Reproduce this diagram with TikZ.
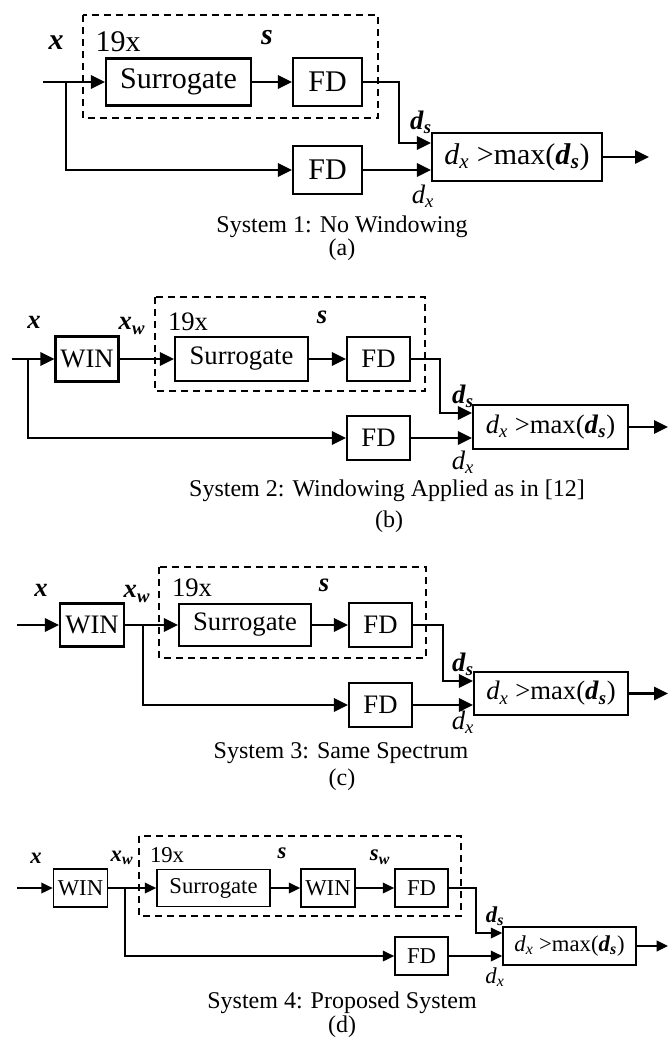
\documentclass[tikz,border=0pt]{standalone}
\usepackage{fontspec}
\setmainfont{Liberation Serif}
\usetikzlibrary{positioning,arrows.meta,calc}

% Variables (texte)
\newcommand{\bvar}[1]{\textbf{\textit{#1}}}
\newcommand{\dsv}{\bvar{d}\textsubscript{\bvar{s}}}
\newcommand{\dxv}{\textit{d}\textsubscript{\textit{x}}}
\newcommand{\xwv}{\bvar{x}\textsubscript{\bvar{w}}}
\newcommand{\swv}{\bvar{s}\textsubscript{\bvar{w}}}
\newcommand{\cmptext}{\dxv{} >max(\dsv)}

% Tailles de police par panneau
\newcommand{\fsA}{\fontsize{22.5}{24}\selectfont}
\newcommand{\fsB}{\fontsize{20}{22}\selectfont}
\newcommand{\fsD}{\fontsize{17}{19}\selectfont}
\newcommand{\fsCap}{\fontsize{18}{20}\selectfont}

\def\px{0.75pt}

\tikzset{
  bloc/.style={draw, line width=1.6pt, inner sep=0pt, align=center},
  sig/.style={line width=1.6pt, -{Triangle[length=10.5pt, width=10pt]}},
  groupe/.style={line width=1.5pt, dash pattern=on 5.25pt off 3.75pt},
  etiq/.style={inner sep=0.5pt},
  legende/.style={font=\fsCap, inner sep=0.5pt},
}

\begin{document}
\begin{tikzpicture}[x=0.75pt, y=-0.75pt]

    \useasboundingbox (0,0) rectangle (668,1039);

    % =========================================================================
    % SYSTEME 1 : PAS DE FENETRAGE
    % =========================================================================
    \begin{scope}[font=\fsA]
    \coordinate (inA) at (43,82);
    \coordinate (brA) at (66,82);
    \node[bloc, minimum width={145*\px}, minimum height={47*\px}] (surA) at (178.5,82) {Surrogate};
    \node[bloc, minimum width={69*\px}, minimum height={48*\px}] (fdA) at (327.5,82) {FD};
    \node[bloc, minimum width={69*\px}, minimum height={48*\px}] (fdlA) at (327.5,170) {FD};
    \node[bloc, minimum width={170*\px}, minimum height={48*\px}] (cmpA) at (517,157) {\cmptext};
    \coordinate (outA) at (649,157);

    % Groupe 19x
    \draw[groupe] (83,15) rectangle (378,118);

    % Labels
    \node[etiq] (xA) at (56,43) {\bvar{x}};
    \node[etiq] (nA) at (118,42) {19x};
    \node[etiq] (sA) at (267,38) {\bvar{s}};
    \node[etiq, font=\fsB] (dsA) at (421,122) {\dsv};
    \node[etiq, font=\fsB] (dxA) at (423,196) {\dxv};

    % Liaisons
    \draw[line width=1.6pt] (inA) -- (brA);
    \draw[sig] (brA) -- (surA.west);
    \draw[sig] (surA) -- (fdA);
    \draw[sig] (brA) |- (fdlA.west);
    \draw[sig] (fdA.east) -- ++(36,0) |- ($(cmpA.west)+(0,-14)$);
    \draw[sig] (fdlA.east) -- (fdlA.east -| cmpA.west);
    \draw[sig] (cmpA.east) -- (outA);
    \end{scope}
    \node[legende] (capA) at (342,227) {System 1: No Windowing};
    \node[legende] (parA) at (342,250) {(a)};

    % =========================================================================
    % SYSTEME 2 : FENETRAGE COMME DANS [12]
    % =========================================================================
    \begin{scope}[font=\fsB]
    \coordinate (inB) at (12,359);
    \coordinate (brB) at (28,359);
    \node[bloc, minimum width={63*\px}, minimum height={45*\px}] (winB) at (87,359) {WIN};
    \node[bloc, minimum width={133*\px}, minimum height={44*\px}] (surB) at (241.5,359) {Surrogate};
    \node[bloc, minimum width={63*\px}, minimum height={44*\px}] (fdB) at (378.5,359) {FD};
    \node[bloc, minimum width={63*\px}, minimum height={44*\px}] (fdlB) at (378.5,438) {FD};
    \node[bloc, minimum width={155*\px}, minimum height={44*\px}] (cmpB) at (550.5,427) {\cmptext};
    \coordinate (outB) at (668,427);

    % Groupe 19x
    \draw[groupe] (155,297) rectangle (425,391);

    % Labels
    \node[etiq] (xB) at (34,322) {\bvar{x}};
    \node[etiq] (xwB) at (132,326) {\xwv};
    \node[etiq] (nB) at (188,322) {19x};
    \node[etiq] (sB) at (322,317) {\bvar{s}};
    \node[etiq] (dsB) at (463,396) {\dsv};
    \node[etiq] (dxB) at (463,462) {\dxv};

    % Liaisons
    \draw[sig] (inB) -- (winB.west);
    \draw[sig] (winB) -- (surB);
    \draw[sig] (surB) -- (fdB);
    \draw[sig] (brB) |- (fdlB.west);
    \draw[sig] (fdB.east) -- ++(29,0) |- ($(cmpB.west)+(0,-14)$);
    \draw[sig] (fdlB.east) -- (fdlB.east -| cmpB.west);
    \draw[sig] (cmpB.east) -- (outB);
    \end{scope}
    \node[legende] (capB) at (387,491) {System 2: Windowing Applied as in [12]};
    \node[legende] (parB) at (389,522) {(b)};

    % =========================================================================
    % SYSTEME 3 : MEME SPECTRE
    % =========================================================================
    \begin{scope}[font=\fsB]
    \coordinate (inC) at (17,625);
    \node[bloc, minimum width={64*\px}, minimum height={43*\px}] (winC) at (92,625) {WIN};
    \coordinate (brC) at (143,625);
    \node[bloc, minimum width={132*\px}, minimum height={42*\px}] (surC) at (245,625) {Surrogate};
    \node[bloc, minimum width={63*\px}, minimum height={44*\px}] (fdC) at (380.5,625) {FD};
    \node[bloc, minimum width={63*\px}, minimum height={44*\px}] (fdlC) at (380.5,705) {FD};
    \node[bloc, minimum width={154*\px}, minimum height={43*\px}] (cmpC) at (551,693.5) {\cmptext};
    \coordinate (outC) at (668,693.5);

    % Groupe 19x
    \draw[groupe] (159,567) rectangle (426,658);

    % Labels
    \node[etiq] (xC) at (41,590) {\bvar{x}};
    \node[etiq] (xwC) at (137,594) {\xwv};
    \node[etiq] (nC) at (192,588) {19x};
    \node[etiq] (sC) at (324,585) {\bvar{s}};
    \node[etiq] (dsC) at (463,664) {\dsv};
    \node[etiq] (dxC) at (463,722) {\dxv};

    % Liaisons
    \draw[sig] (inC) -- (winC.west);
    \draw[sig] (winC) -- (surC);
    \draw[sig] (surC) -- (fdC);
    \draw[sig] (brC) |- (fdlC.west);
    \draw[sig] (fdC.east) -- ++(30,0) |- ($(cmpC.west)+(0,-12.5)$);
    \draw[sig] (fdlC.east) -- (fdlC.east -| cmpC.west);
    \draw[sig] (cmpC.east) -- (outC);
    \end{scope}
    \node[legende] (capC) at (341,753) {System 3: Same Spectrum};
    \node[legende] (parC) at (342,780) {(c)};

    % =========================================================================
    % SYSTEME 4 : SYSTEME PROPOSE
    % =========================================================================
    \begin{scope}[font=\fsD, sig/.append style={line width=1.3pt, -{Triangle[length=8.5pt, width=8pt]}}]
    \coordinate (inD) at (17,888);
    \node[bloc, line width=1.3pt, minimum width={54*\px}, minimum height={38*\px}] (winD) at (80.5,888) {WIN};
    \coordinate (brD) at (125,888);
    \node[bloc, line width=1.3pt, minimum width={113*\px}, minimum height={37*\px}] (surD) at (213.5,888) {Surrogate};
    \node[bloc, line width=1.3pt, minimum width={54*\px}, minimum height={38*\px}] (winsD) at (328,888) {WIN};
    \node[bloc, line width=1.3pt, minimum width={53*\px}, minimum height={38*\px}] (fdD) at (421.5,888) {FD};
    \node[bloc, line width=1.3pt, minimum width={53*\px}, minimum height={38*\px}] (fdlD) at (421.5,956) {FD};
    \node[bloc, line width=1.3pt, minimum width={133*\px}, minimum height={38*\px}] (cmpD) at (569.5,946) {\cmptext};
    \coordinate (outD) at (668,946);

    % Groupe 19x
    \draw[groupe, line width=1.3pt] (139,836) rectangle (461,916);

    % Labels
    \node[etiq] (xD) at (36,858) {\bvar{x}};
    \node[etiq] (xwD) at (122,858) {\xwv};
    \node[etiq] (nD) at (167,855) {19x};
    \node[etiq] (sD) at (282,853) {\bvar{s}};
    \node[etiq] (swD) at (380,857) {\swv};
    \node[etiq] (dsD) at (495,916) {\dsv};
    \node[etiq] (dxD) at (495,977) {\dxv};

    % Liaisons
    \draw[sig] (inD) -- (winD.west);
    \draw[sig] (winD) -- (surD);
    \draw[sig] (surD) -- (winsD);
    \draw[sig] (winsD) -- (fdD);
    \draw[sig] (brD) |- (fdlD.west);
    \draw[sig] (fdD.east) -- ++(27,0) |- ($(cmpD.west)+(0,-13)$);
    \draw[sig] (fdlD.east) -- (fdlD.east -| cmpD.west);
    \draw[sig] (cmpD.east) -- (outD);
    \end{scope}
    \node[legende] (capD) at (342,1003) {System 4: Proposed System};
    \node[legende] (parD) at (342,1027) {(d)};

\end{tikzpicture}
\end{document}
